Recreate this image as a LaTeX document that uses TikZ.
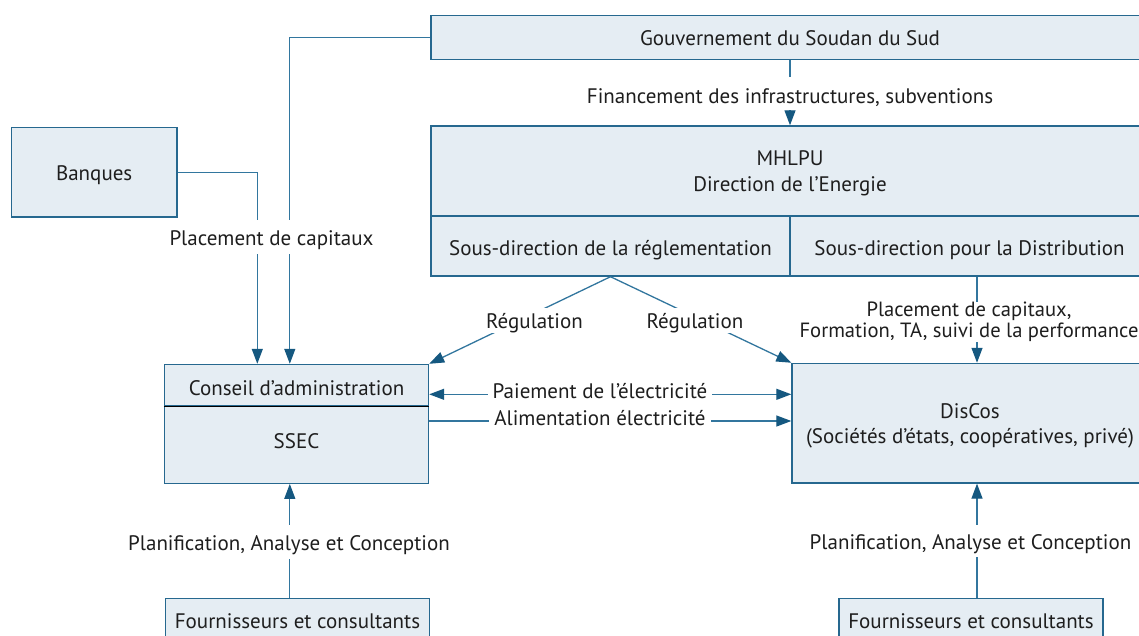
\documentclass[tikz,border=0pt]{standalone}
\usepackage{fontspec}
\setmainfont{PT Sans}
\usetikzlibrary{arrows.meta,calc}
\definecolor{boxfill}{RGB}{229,237,243}
\definecolor{boxline}{RGB}{38,104,143}
\definecolor{connline}{RGB}{50,118,158}
\definecolor{tipcol}{RGB}{21,88,128}
\definecolor{ink}{RGB}{30,30,30}

\begin{document}
\begin{tikzpicture}[x=1pt,y=-1pt,
  font=\fontsize{21}{25}\selectfont, text=ink,
  box/.style={draw=boxline, line width=1.4pt, fill=boxfill, inner sep=0pt, align=center, text depth=0pt},
  conn/.style={draw=connline, line width=1.3pt},
  arr/.style={conn, -{Triangle[length=15pt,width=11pt,color=tipcol]}},
  dblarr/.style={conn, {Triangle[length=15pt,width=11pt,color=tipcol]}-{Triangle[length=15pt,width=11pt,color=tipcol]}},
  lbl/.style={fill=white, inner xsep=5pt, inner ysep=0pt, anchor=base},
]
\useasboundingbox (0,0) rectangle (1139,635);
\clip (0,0) rectangle (1139,635);

% boxes
\node[box, minimum width=718pt, minimum height=44pt, text height=15.6pt] (gov) at (790,37.2) {Gouvernement du Soudan du Sud};
\node[box, minimum width=718pt, minimum height=90pt, font=\fontsize{21}{26}\selectfont] (mhlpu) at (790,171) {MHLPU\\Direction de l’Energie};
\node[box, minimum width=359pt, minimum height=60pt, text height=18pt] (regl) at (610.5,246) {Sous-direction de la réglementation};
\node[box, minimum width=359pt, minimum height=60pt, text height=18pt] (distr) at (969.5,246) {Sous-direction pour la Distribution};
\node[box, minimum width=165.5pt, minimum height=89.7pt, text height=17pt] (banq) at (94.2,172.2) {Banques};
\node[box, minimum width=264pt, minimum height=41pt, text height=20pt] (conseil) at (296.5,385) {Conseil d’administration};
\node[box, minimum width=264pt, minimum height=78pt, text height=8pt] (ssec) at (296.5,444.2) {SSEC};
\draw[black, line width=1.3pt] (conseil.south west) -- (conseil.south east);
\node[box, minimum width=356pt, minimum height=119.5pt] (discos) at (970,423.2) {DisCos\\(Sociétés d’états, coopératives, privé)};
\node[box, minimum width=264pt, minimum height=47.5pt, text height=12.6pt] (four1) at (297.5,622.2) {Fournisseurs et consultants};
\node[box, minimum width=264pt, minimum height=47.5pt, text height=12.6pt] (four2) at (971,622.2) {Fournisseurs et consultants};

% connector end points
\coordinate (gin) at ($(conseil.north west)+(126,0)$);
\coordinate (bin) at ($(conseil.north west)+(93.5,0)$);
\coordinate (dtop) at ($(discos.north)+(7,0)$);
\coordinate (pay) at ($(conseil.east)+(0,9.3)$);
\coordinate (ali) at ($(ssec.east)+(0,-23.2)$);
\coordinate (b1) at ($(ssec.south west)+(126,0)$);
\coordinate (b2) at ($(discos.south)+(7,0)$);

% connectors
\draw[arr] (gov.west) -| (gin);
\draw[arr] (banq.east) -| (bin);
\draw[arr] (gov.south) -- (mhlpu.north);
\draw[arr] (regl.south) -- (conseil.north east);
\draw[arr] (regl.south) -- (discos.north west);
\draw[arr] (distr.south -| dtop) -- (dtop);
\draw[dblarr] (pay) -- (discos.west |- pay);
\draw[arr] (ali) -- (discos.west |- ali);
\draw[arr] (four1.north -| b1) -- (b1);
\draw[arr] (four2.north -| b2) -- (b2);

% connector labels, set on their baselines
\node[lbl, text height=26pt, text depth=7pt] (lfin) at (790,103) {Financement des infrastructures, subventions};
\node[lbl, text height=25pt, text depth=9pt] (lplc) at (271.5,245) {Placement de capitaux};
\node[lbl, text height=20pt, text depth=4.7pt] (lreg1) at (534.5,328.3) {Régulation};
\node[lbl, text height=20pt, text depth=4.7pt] (lreg2) at (695,328.3) {Régulation};
\node[lbl, anchor=center, align=center, font=\fontsize{20.6}{21}\selectfont] (lcap) at (969,322.2) {Placement de capitaux,\\Formation, TA, suivi de la performance};
\node[lbl, text height=14pt, text depth=2pt] (lpay) at (600,398.3) {Paiement de l’électricité};
\node[lbl, text height=14pt, text depth=2pt] (lali) at (600,425) {Alimentation électricité};
\node[lbl, text height=25pt, text depth=9.3pt] (lpl1) at (289,550) {Planification, Analyse et Conception};
\node[lbl, text height=24pt, text depth=8.3pt] (lpl2) at (970.5,549) {Planification, Analyse et Conception};
\end{tikzpicture}
\end{document}
